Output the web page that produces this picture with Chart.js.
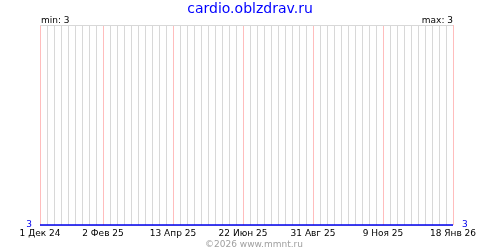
<!DOCTYPE html>
<html>
<head>
<meta charset="utf-8">
<script src="https://cdn.jsdelivr.net/npm/chart.js@4"></script>
<style>
  body { margin: 0; background: #fff; }
  #wrap { width: 500px; height: 250px; }
</style>
</head>
<body>
<div id="wrap"><canvas id="myChart" width="500" height="250"></canvas></div>
<script>
// dati: giorni dal 1 Dek 24, etichette e valori
var tickDays = [0, 63, 133, 203, 273, 343, 413];
var tickLabels = ["1 Дек 24", "2 Фев 25", "13 Апр 25", "22 Июн 25", "31 Авг 25", "9 Ноя 25", "18 Янв 26"];
var pointDays = [0, 63, 133, 203, 273, 343, 413];
var values = [3, 3, 3, 3, 3, 3, 3];
var minVal = 3;
var maxVal = 3;
var siteName = "cardio.oblzdrav.ru";
var footer = "©2026 www.mmnt.ru";

var small = { family: "DejaVu Sans", size: 9 };

function quale(v) {
    return tickDays.indexOf(Math.round(v));
}

var testi = {
    id: "testi",
    afterDraw: function (chart) {
        var c = chart.ctx;
        var a = chart.chartArea;
        c.save();
        c.textBaseline = "alphabetic";
        c.font = '14px "DejaVu Sans"';
        c.fillStyle = "#0000ff";
        c.textAlign = "center";
        c.fillText(siteName, 250, 13);
        c.font = '9px "DejaVu Sans"';
        c.fillStyle = "#000";
        c.textAlign = "left";
        c.fillText("min: " + minVal, a.left + 1, 23);
        c.textAlign = "right";
        c.fillText("max: " + maxVal, a.right, 23);
        c.fillStyle = "#a0a0a0";
        c.textAlign = "center";
        c.fillText(footer, 254, 247);
        c.restore();
    }
};

var ctx = document.getElementById("myChart");
var myChart = new Chart(ctx, {
    type: "line",
    data: {
        datasets: [
            {
                data: pointDays.map(function (d, i) { return { x: d, y: values[i] }; }),
                borderColor: "#0000ee",
                borderWidth: 1.5,
                pointRadius: 0,
                tension: 0,
                clip: false
            }
        ]
    },
    options: {
        responsive: false,
        animation: false,
        layout: { padding: { top: 25, left: 0, right: 0, bottom: 0 } },
        plugins: { legend: { display: false }, tooltip: { enabled: false } },
        scales: {
            x: {
                type: "linear",
                min: tickDays[0],
                max: tickDays[tickDays.length - 1],
                afterFit: function (s) { s.height = 25; },
                border: { display: false },
                grid: {
                    drawTicks: false,
                    color: function (c) {
                        return quale(c.tick.value) >= 0 ? "#ffbdbd" : "#d8d8d8";
                    }
                },
                ticks: {
                    stepSize: 7,
                    autoSkip: false,
                    maxRotation: 0,
                    padding: 3,
                    color: "#000",
                    font: small,
                    callback: function (v) {
                        var i = quale(v);
                        return i >= 0 ? tickLabels[i] : "";
                    }
                }
            },
            y: {
                position: "left",
                min: 3,
                max: 4,
                afterFit: function (s) { s.width = 40; },
                border: { display: false },
                grid: { drawTicks: false, color: "#d8d8d8" },
                ticks: {
                    stepSize: 1,
                    padding: 8,
                    color: "#0000ee",
                    font: small,
                    callback: function (v) { return v === 3 ? "3" : ""; }
                }
            },
            y2: {
                position: "right",
                min: 3,
                max: 4,
                afterFit: function (s) { s.width = 47; },
                border: { display: false },
                grid: { display: false, drawTicks: false },
                ticks: {
                    stepSize: 1,
                    padding: 9,
                    color: "#0000ee",
                    font: small,
                    callback: function (v) { return v === 3 ? "3" : ""; }
                }
            }
        }
    },
    plugins: [testi]
});
</script>
</body>
</html>
